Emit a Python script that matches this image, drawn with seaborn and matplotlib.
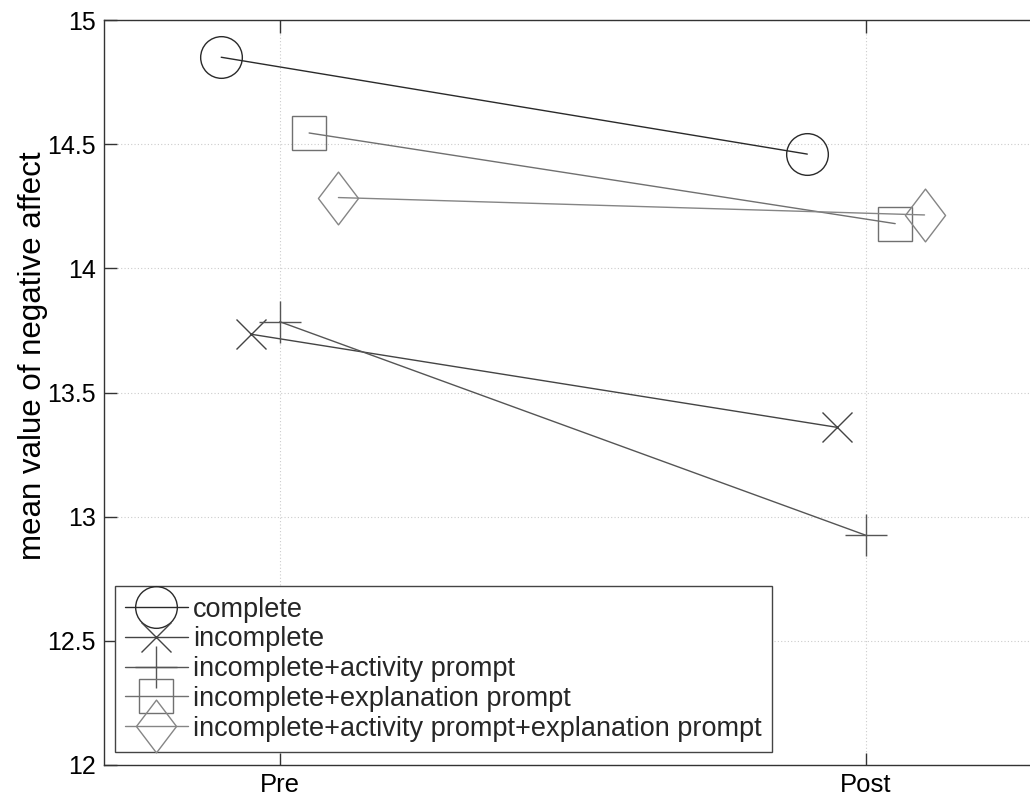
import matplotlib
matplotlib.use("Agg")
import matplotlib.pyplot as plt
import seaborn as sns
import pandas as pd
from matplotlib.path import Path

times = ["Pre", "Post"]
groups = ["complete", "incomplete", "incomplete+activity prompt",
          "incomplete+explanation prompt",
          "incomplete+activity prompt+explanation prompt"]
complete = [14.85, 14.46]
incomplete = [13.735, 13.36]
activity = [13.785, 12.925]
explanation = [14.545, 14.18]
act_expl = [14.285, 14.215]
values = [complete, incomplete, activity, explanation, act_expl]

offsets = [-0.1, -0.05, 0.0, 0.05, 0.1]
colors = ["#2a2a2a", "#444444", "#555555", "#707070", "#858585"]
diamond = Path([(0, 1), (0.76, 0), (0, -1), (-0.76, 0), (0, 1)],
               [Path.MOVETO, Path.LINETO, Path.LINETO, Path.LINETO, Path.CLOSEPOLY])
markers = ["o", "x", "+", "s", diamond]
msizes = [30, 22, 30, 24, 38]

sns.set_theme(style="white")
plt.rcParams["font.family"] = ["Liberation Sans", "DejaVu Sans"]

fig = plt.figure(figsize=(10.3, 7.96), dpi=100)
ax = fig.add_axes([104/1030, 1 - 765/796, (1030 - 104)/1030, (765 - 20)/796])

for i, (g, vals) in enumerate(zip(groups, values)):
    df = pd.DataFrame({"x": [1 + offsets[i], 2 + offsets[i]], "y": vals})
    sns.lineplot(data=df, x="x", y="y", ax=ax, color=colors[i], linewidth=1.0,
                 marker=markers[i], markersize=msizes[i], markerfacecolor="none",
                 markeredgecolor=colors[i], markeredgewidth=1.0, label=g)

ax.set_xlim(0.7, 2.28)
ax.set_ylim(12, 15)
ax.set_xticks([1, 2])
ax.set_xticklabels(times)
ax.set_yticks([12, 12.5, 13, 13.5, 14, 14.5, 15])
ax.set_yticklabels(["12", "12.5", "13", "13.5", "14", "14.5", "15"])
ax.set_xlabel("")
ax.set_ylabel("mean value of negative affect", fontsize=22.5, color="black")
ax.yaxis.set_label_coords(-0.06, 0.55)
ax.tick_params(axis="both", which="both", direction="in", length=9, width=1,
               colors="#333333", labelcolor="black",
               top=True, right=False, bottom=True, left=True)
ax.tick_params(axis="y", labelsize=18, pad=6)
ax.tick_params(axis="x", labelsize=18.5, pad=6)
ax.grid(True, linestyle=(0, (1, 2)), color="#cccccc", linewidth=0.8)
for s in ax.spines.values():
    s.set_color("#333333")
    s.set_linewidth(1)
ax.spines["right"].set_visible(False)

leg = ax.legend(loc="lower left", bbox_to_anchor=(11/926, 13/745), borderaxespad=0,
                fontsize=19.5, frameon=True, fancybox=False, framealpha=1,
                edgecolor="#444444", handlelength=2.3, handletextpad=0.2,
                labelspacing=0.14, borderpad=0.38, markerscale=1.0)
leg.get_frame().set_linewidth(1)

fig.savefig("out.png", dpi=100)
